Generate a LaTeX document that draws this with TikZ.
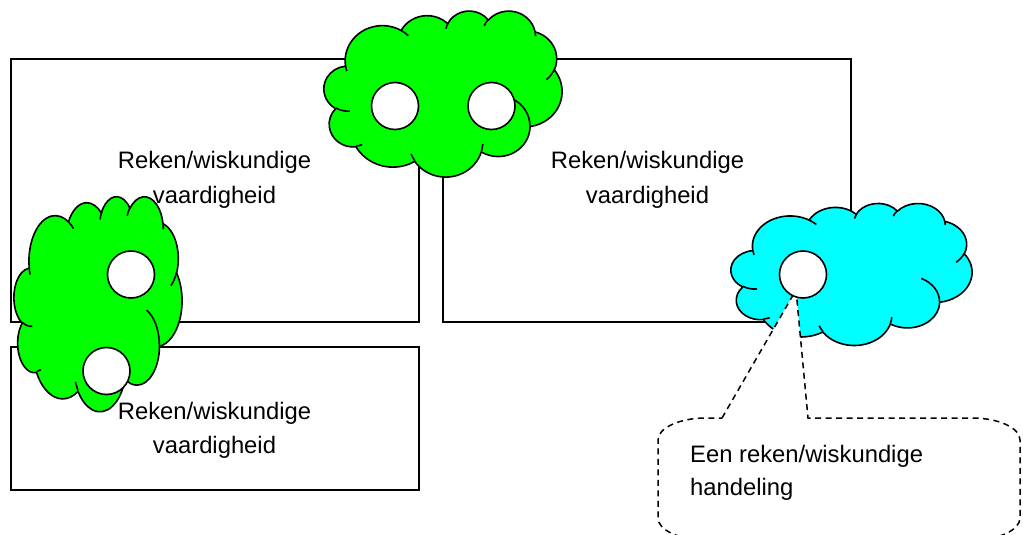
\documentclass[tikz,border=0pt]{standalone}
\usepackage{fontspec}
\setmainfont{Liberation Sans}
\definecolor{cldgreen}{RGB}{0,255,0}
\definecolor{cldcyan}{RGB}{0,255,255}

\newcommand\cldmove[2]{%
  \pgfmathsetmacro\cldpx{\cldX+(#1/432)*\cldW}%
  \pgfmathsetmacro\cldpy{\cldY+(#2/432)*\cldH}%
  \pgfpathmoveto{\pgfpoint{\cldpx pt}{-\cldpy pt}}}

\newcommand\cldarc[4]{%
  \pgfmathsetmacro\cldrx{(#1/432)*\cldW}%
  \pgfmathsetmacro\cldry{(#2/432)*\cldH}%
  \pgfmathsetmacro\cldps{atan2(#1*sin(#3),#2*cos(#3))}%
  \pgfmathsetmacro\cldpe{atan2(#1*sin((#3)+(#4)),#2*cos((#3)+(#4)))}%
  \pgfmathsetmacro\cldd{mod((\cldpe)-(\cldps)+720,360)}%
  \pgfmathsetmacro\cldsa{0-(\cldps)}%
  \pgfmathsetmacro\cldea{0-(\cldps)-(\cldd)}%
  \pgfpatharc{\cldsa}{\cldea}{\cldrx pt and \cldry pt}}

\newcommand\drawcloud[5]{%
  \begin{pgfscope}
  \def\cldX{#1}\def\cldY{#2}\def\cldW{#3}\def\cldH{#4}%
  \pgfsetlinewidth{1.6pt}\pgfsetroundjoin
  \pgfsetfillcolor{#5}\pgfsetstrokecolor{black}%
  \cldmove{39.00}{143.70}%
  \cldarc{67.53}{91.90}{-190.48748}{123.78053}%
  \cldarc{53.33}{72.67}{-144.10238}{89.94523}%
  \cldarc{43.65}{59.45}{-145.80792}{99.72302}%
  \cldarc{48.57}{65.95}{-130.98607}{117.24173}%
  \cldarc{53.33}{72.73}{-78.70888}{109.02692}%
  \cldarc{67.75}{92.20}{-46.26725}{130.269}%
  \cldarc{57.85}{78.67}{0.62502}{114.03333}%
  \cldarc{67.52}{92.15}{22.4516}{115.17255}%
  \cldarc{77.20}{105.43}{66.24263}{75.71102}%
  \cldarc{43.60}{59.18}{-274.94208}{146.73557}%
  \cldarc{43.45}{59.45}{-246.8285}{152.51885}%
  \pgfpathclose
  \pgfusepath{fill,stroke}%
  \cldmove{46.93}{261.77}\cldarc{43.45}{59.45}{86.742}{26.4295}%
  \cldmove{69.28}{348.99}\cldarc{43.60}{59.18}{73.61047}{11.44747}%
  \cldmove{164.78}{390.90}\cldarc{67.52}{92.15}{137.62415}{14.0811}%
  \cldmove{288.27}{347.51}\cldarc{67.52}{92.15}{6.45327}{15.99835}%
  \cldmove{341.29}{229.54}\cldarc{57.85}{78.67}{-70.29235}{70.91737}%
  \cldmove{417.98}{153.54}\cldarc{53.33}{72.73}{30.31803}{27.7515}%
  \cldmove{383.24}{54.26}\cldarc{48.57}{65.95}{-13.74433}{14.8589}%
  \cldmove{290.78}{39.52}\cldarc{48.57}{65.95}{-149.18145}{18.19537}%
  \cldmove{221.41}{47.20}\cldarc{43.65}{59.45}{-163.49427}{19.00302}%
  \cldmove{140.00}{51.92}\cldarc{67.53}{91.90}{-66.70695}{12.31935}%
  \cldmove{41.27}{157.89}\cldarc{67.53}{91.90}{157.65435}{11.85817}%
  \pgfusepath{stroke}%
  \end{pgfscope}}

\tikzset{
  box/.style={draw=black, line width=1.5pt, inner sep=0pt},
  eye/.style={circle, draw=black, fill=white, line width=1.6pt, minimum size=47pt, inner sep=0pt},
  lbl/.style={font=\fontsize{23.8}{28}\selectfont, inner sep=0pt, anchor=base},
  callout/.style={draw=black, fill=white, line width=1.5pt, dash pattern=on 6pt off 4.5pt},
}

\begin{document}
\begin{tikzpicture}[x=1pt, y=1pt]
\useasboundingbox (0,0) rectangle (1023,-535);

% rectangles
\node[box, minimum width=408pt, minimum height=263pt] (rA) at (215,-190.5) {};
\node[box, minimum width=408pt, minimum height=263pt] (rB) at (647,-190.5) {};
\node[box, minimum width=408pt, minimum height=143pt] (rC) at (215,-418.5) {};

% top green cloud
\drawcloud{324}{10.5}{238}{166}{cldgreen}
\node[eye] (e1) at (395,-106) {};
\node[eye] (e2) at (491.5,-106) {};

% left green cloud
\drawcloud{14}{196}{168}{215}{cldgreen}
\node[eye] (e3) at (131,-274.5) {};
\node[eye] (e4) at (106.5,-371) {};

% cyan cloud
\drawcloud{731}{203}{241}{142}{cldcyan}

% callout with pointer
\coordinate (tip) at (796,-290);
\draw[callout] (722,-418) -- (tip) -- (808,-418) -- (972,-418)
  arc[start angle=90, end angle=0, x radius=48, y radius=22] -- (1020,-518)
  arc[start angle=0, end angle=-90, x radius=48, y radius=22] -- (706,-540)
  arc[start angle=270, end angle=180, x radius=48, y radius=22] -- (658,-440)
  arc[start angle=180, end angle=90, x radius=48, y radius=22] -- cycle;
\node[eye] (e5) at (803,-274.5) {};

% texts
\node[lbl] (tA1) at (214.5,-168) {Reken/wiskundige};
\node[lbl] (tA2) at (214.5,-203) {vaardigheid};
\node[lbl] (tB1) at (647.5,-168) {Reken/wiskundige};
\node[lbl] (tB2) at (647.5,-203) {vaardigheid};
\node[lbl] (tC1) at (214.5,-419) {Reken/wiskundige};
\node[lbl] (tC2) at (214.5,-453) {vaardigheid};
\node[lbl, anchor=base west] (tD1) at (690,-462) {Een reken/wiskundige};
\node[lbl, anchor=base west] (tD2) at (690,-495) {handeling};
\end{tikzpicture}
\end{document}
